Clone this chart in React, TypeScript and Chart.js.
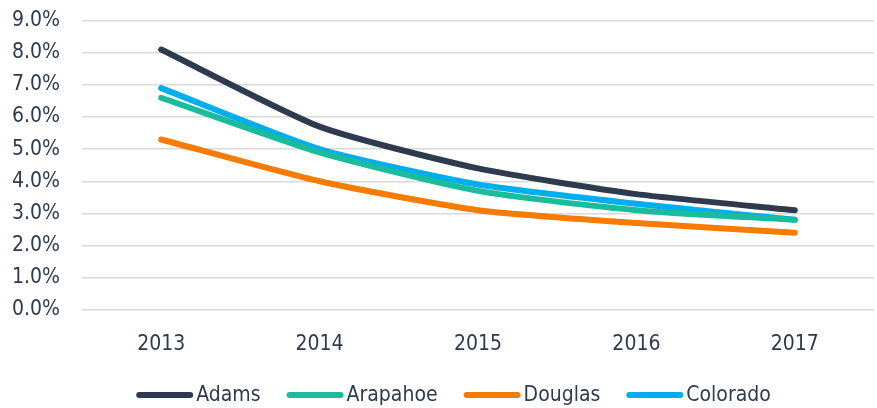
import React, { useEffect, useRef } from "react";
import { Chart, registerables } from "chart.js";

Chart.register(...registerables);

const categories = ["2013", "2014", "2015", "2016", "2017"];
const adams = [8.1, 5.7, 4.4, 3.6, 3.1];
const arapahoe = [6.6, 4.9, 3.7, 3.1, 2.8];
const douglas = [5.3, 4.0, 3.1, 2.7, 2.4];
const colorado = [6.9, 5.0, 3.9, 3.3, 2.8];
const seriesNames = ["Adams", "Arapahoe", "Douglas", "Colorado"];
const seriesColors = ["#2e3b4e", "#1abc9c", "#f57c00", "#00aeef"];

const FONT = "'DejaVu Sans Condensed', 'Liberation Sans Narrow', sans-serif";
const TEXT = "#2e3b4e";
const FONT_SIZE = 21;

// Legend drawn under the plot: line swatch followed closely by text
const lineLegend = {
  id: "lineLegend",
  afterDraw(chart: any) {
    const ctx = chart.ctx as CanvasRenderingContext2D;
    const swatch = 57;
    const gapText = 3;
    const gapItem = 26;
    ctx.save();
    ctx.font = `${FONT_SIZE}px ${FONT}`;
    const items = chart.data.datasets.map((ds: any) => ({
      text: ds.label as string,
      color: ds.borderColor as string,
      w: ctx.measureText(ds.label).width,
    }));
    const total =
      items.reduce((s: number, it: any) => s + swatch + gapText + it.w, 0) +
      gapItem * (items.length - 1);
    let x = chart.width / 2 + 15 - total / 2;
    const y = chart.height - 13;
    ctx.textBaseline = "middle";
    ctx.textAlign = "left";
    for (const it of items) {
      ctx.strokeStyle = it.color;
      ctx.lineWidth = 6;
      ctx.lineCap = "round";
      ctx.beginPath();
      ctx.moveTo(x + 3, y);
      ctx.lineTo(x + swatch - 3, y);
      ctx.stroke();
      ctx.fillStyle = TEXT;
      ctx.fillText(it.text, x + swatch + gapText, y + 1);
      x += swatch + gapText + it.w + gapItem;
    }
    ctx.restore();
  },
};

export default function App() {
  const ref = useRef<HTMLCanvasElement | null>(null);
  useEffect(() => {
    document.body.style.margin = "0";
    const values = [adams, arapahoe, douglas, colorado];
    const chart = new Chart(ref.current!, {
      type: "line",
      data: {
        labels: categories,
        datasets: values.map((v, i) => ({
          label: seriesNames[i],
          data: v,
          borderColor: seriesColors[i],
          backgroundColor: seriesColors[i],
          borderWidth: 6,
          pointRadius: 0,
          tension: 0.2,
          borderCapStyle: "round" as const,
          borderJoinStyle: "round" as const,
        })),
      },
      plugins: [lineLegend],
      options: {
        animation: false,
        responsive: false,
        layout: { padding: { top: 0, right: 3, left: -10, bottom: 37 } },
        plugins: {
          tooltip: { enabled: false },
          legend: { display: false },
        },
        scales: {
          x: {
            offset: true,
            grid: { display: false },
            border: { display: false },
            ticks: { color: TEXT, font: { family: FONT, size: FONT_SIZE }, padding: 14 },
          },
          y: {
            min: 0,
            max: 9,
            grid: { color: "#d9d9d9", lineWidth: 1.5, drawTicks: false },
            border: { display: false },
            ticks: {
              stepSize: 1,
              color: TEXT,
              padding: 22,
              font: { family: FONT, size: FONT_SIZE },
              callback: (v: any) => Number(v).toFixed(1) + "%",
            },
          },
        },
      },
    });
    return () => chart.destroy();
  }, []);
  return (
    <div style={{ width: 877, height: 408, overflow: "hidden", position: "relative" }}>
      <canvas
        ref={ref}
        width={877}
        height={422}
        style={{ display: "block", position: "absolute", top: -14, left: 0 }}
      />
    </div>
  );
}
